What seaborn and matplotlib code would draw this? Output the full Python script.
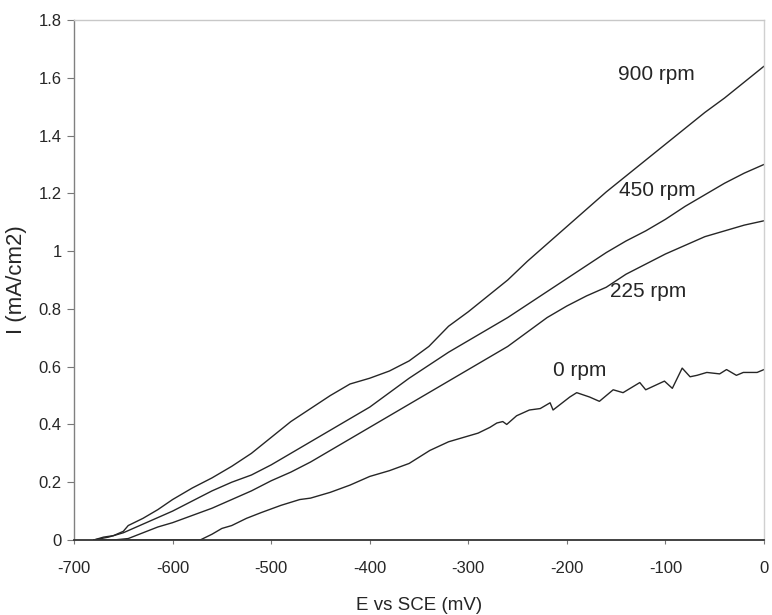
import matplotlib
matplotlib.use("Agg")
import matplotlib.pyplot as plt
import seaborn as sns
import pandas as pd

# Potentiodynamic current density vs potential for four rotation speeds
E_900 = [-680, -670, -660, -650, -645, -630, -615, -600, -580, -560, -540, -520,
         -500, -480, -460, -440, -420, -400, -380, -360, -340, -320, -300, -280,
         -260, -240, -220, -200, -180, -160, -140, -120, -100, -80, -60, -40, -20, 0]
I_900 = [0.00, 0.01, 0.015, 0.03, 0.05, 0.075, 0.105, 0.14, 0.18, 0.215, 0.255, 0.30,
         0.355, 0.41, 0.455, 0.50, 0.54, 0.56, 0.585, 0.62, 0.67, 0.74, 0.79, 0.845,
         0.90, 0.965, 1.025, 1.085, 1.145, 1.205, 1.26, 1.315, 1.37, 1.425, 1.48, 1.53, 1.585, 1.64]

E_450 = [-680, -665, -650, -640, -620, -600, -580, -560, -540, -520, -500, -480,
         -460, -440, -420, -400, -380, -360, -340, -320, -300, -280, -260, -240,
         -220, -200, -180, -160, -140, -120, -100, -80, -60, -40, -20, 0]
I_450 = [0.00, 0.01, 0.025, 0.04, 0.07, 0.10, 0.135, 0.17, 0.20, 0.225, 0.26, 0.30,
         0.34, 0.38, 0.42, 0.46, 0.51, 0.56, 0.605, 0.65, 0.69, 0.73, 0.77, 0.815,
         0.86, 0.905, 0.95, 0.995, 1.035, 1.07, 1.11, 1.155, 1.195, 1.235, 1.27, 1.30]

E_225 = [-680, -660, -645, -630, -615, -600, -580, -560, -540, -520, -500, -480,
         -460, -440, -420, -400, -380, -360, -340, -320, -300, -280, -260, -240,
         -220, -200, -180, -160, -140, -120, -100, -80, -60, -40, -20, 0]
I_225 = [0.00, 0.00, 0.005, 0.025, 0.045, 0.06, 0.085, 0.11, 0.14, 0.17, 0.205, 0.235,
         0.27, 0.31, 0.35, 0.39, 0.43, 0.47, 0.51, 0.55, 0.59, 0.63, 0.67, 0.72,
         0.77, 0.81, 0.845, 0.875, 0.92, 0.955, 0.99, 1.02, 1.05, 1.07, 1.09, 1.105]

E_0 = [-680, -640, -600, -572, -560, -550, -540, -525, -510, -490, -471, -460,
       -440, -420, -400, -380, -360, -339, -320, -300, -290, -278, -271, -265,
       -261, -251, -238, -227, -217, -214, -197, -190, -177, -167, -153, -143,
       -126, -120, -101, -93, -83, -75, -68, -58, -45, -38, -28, -21, -7, 0]
I_0 = [0.00, 0.00, 0.00, 0.00, 0.02, 0.04, 0.05, 0.075, 0.095, 0.12, 0.14, 0.145,
       0.165, 0.19, 0.22, 0.24, 0.265, 0.31, 0.34, 0.36, 0.37, 0.39, 0.405, 0.41,
       0.40, 0.43, 0.45, 0.455, 0.475, 0.45, 0.495, 0.51, 0.495, 0.48, 0.52, 0.51,
       0.545, 0.52, 0.55, 0.525, 0.595, 0.565, 0.57, 0.58, 0.575, 0.59, 0.57, 0.58, 0.58, 0.59]

speeds = ["900 rpm", "450 rpm", "225 rpm", "0 rpm"]
label_x = [-109, -108, -118, -187]
label_y = [1.61, 1.21, 0.86, 0.585]

frames = []
for name, e, i in zip(speeds, [E_900, E_450, E_225, E_0], [I_900, I_450, I_225, I_0]):
    frames.append(pd.DataFrame({"E": e, "I": i, "speed": name}))
data = pd.concat(frames, ignore_index=True)

sns.set_theme(style="white")
plt.rcParams["font.family"] = ["Liberation Sans", "DejaVu Sans"]

fig = plt.figure(figsize=(7.72, 6.15), dpi=100)
ax = fig.add_axes([74 / 772, 75 / 615, 690 / 772, 520 / 615])

ink = "#262626"
sns.lineplot(data=data, x="E", y="I", units="speed", estimator=None, sort=False,
             color=ink, linewidth=1.0, ax=ax, legend=False)

for txt, lx, ly in zip(speeds, label_x, label_y):
    ax.text(lx, ly, txt, ha="center", va="center", fontsize=15, color=ink)

ax.set_xlim(-700, 0)
ax.set_ylim(0, 1.8)
ax.set_xticks(range(-700, 1, 100))
ax.set_xticklabels([str(v) for v in range(-700, 1, 100)])
ax.set_yticks([0, 0.2, 0.4, 0.6, 0.8, 1.0, 1.2, 1.4, 1.6, 1.8])
ax.set_yticklabels(["0", "0.2", "0.4", "0.6", "0.8", "1", "1.2", "1.4", "1.6", "1.8"])

ax.set_xlabel("E vs SCE (mV)", fontsize=13.5, color=ink, labelpad=15)
ax.set_ylabel("I (mA/cm2)", fontsize=16, color=ink, labelpad=8)

ax.tick_params(axis="x", which="major", direction="out", length=3, width=0.8,
               color="#777777", labelsize=12, labelcolor=ink, pad=12, bottom=True)
ax.tick_params(axis="y", which="major", direction="out", length=5, width=0.8,
               color="#777777", labelsize=12, labelcolor=ink, pad=4, left=True)

ax.spines["left"].set_color("#808080")
ax.spines["left"].set_linewidth(1.0)
ax.spines["bottom"].set_color("#333333")
ax.spines["bottom"].set_linewidth(1.3)
ax.spines["top"].set_color("#c8c8c8")
ax.spines["top"].set_linewidth(1.0)
ax.spines["right"].set_color("#d0d0d0")
ax.spines["right"].set_linewidth(1.0)
ax.grid(False)

fig.savefig("out.png", dpi=100, facecolor="white")
